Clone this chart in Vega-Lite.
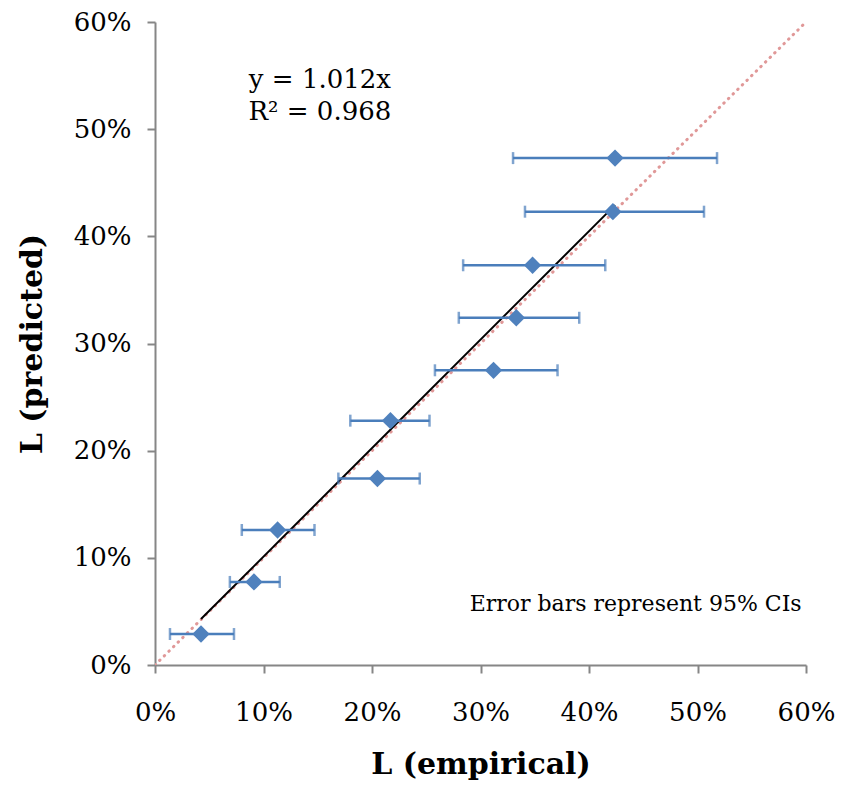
{
  "$schema": "https://vega.github.io/schema/vega-lite/v6.json",
  "width": 651,
  "height": 643,
  "autosize": {"type": "none"},
  "padding": {"left": 155, "top": 22, "right": 36, "bottom": 123},
  "background": "white",
  "config": {
    "view": {"stroke": null},
    "font": "DejaVu Serif",
    "axis": {
      "domainColor": "#868686",
      "domainWidth": 2,
      "tickColor": "#868686",
      "tickWidth": 2,
      "tickSize": 8,
      "grid": false,
      "labelFlush": false,
      "labelOverlap": false,
      "labelFont": "DejaVu Serif",
      "labelFontSize": 26,
      "labelColor": "black",
      "titleFont": "DejaVu Serif",
      "titleFontSize": 30,
      "titleFontWeight": "bold",
      "titleColor": "black"
    }
  },
  "datasets": {
    "points": [
      {"emp": 0.0424, "pred": 0.0289, "lo": 0.0138, "hi": 0.0728},
      {"emp": 0.0912, "pred": 0.0775, "lo": 0.0690, "hi": 0.1150},
      {"emp": 0.1130, "pred": 0.1260, "lo": 0.0800, "hi": 0.1470},
      {"emp": 0.2050, "pred": 0.1740, "lo": 0.1690, "hi": 0.2440},
      {"emp": 0.2170, "pred": 0.2280, "lo": 0.1800, "hi": 0.2530},
      {"emp": 0.3120, "pred": 0.2750, "lo": 0.2580, "hi": 0.3710},
      {"emp": 0.3330, "pred": 0.3240, "lo": 0.2800, "hi": 0.3910},
      {"emp": 0.3480, "pred": 0.3730, "lo": 0.2840, "hi": 0.4150},
      {"emp": 0.4220, "pred": 0.4230, "lo": 0.3410, "hi": 0.5060},
      {"emp": 0.4240, "pred": 0.4730, "lo": 0.3300, "hi": 0.5180}
    ],
    "trend": [
      {"emp": 0.0424, "pred": 0.0429},
      {"emp": 0.4240, "pred": 0.4291}
    ],
    "diag": [
      {"emp": 0.0, "pred": 0.0},
      {"emp": 0.6, "pred": 0.6}
    ],
    "eq": [
      {"emp": 0.152, "pred": 0.546, "label": "y = 1.012x"},
      {"emp": 0.152, "pred": 0.516, "label": "R² = 0.968"}
    ],
    "note": [
      {"emp": 0.443, "pred": 0.057, "label": "Error bars represent 95% CIs"}
    ]
  },
  "layer": [
    {
      "data": {"name": "diag"},
      "mark": {"type": "line", "color": "#e09898", "strokeWidth": 3, "strokeDash": [0.5, 6], "strokeCap": "round", "clip": true},
      "encoding": {
        "x": {
          "field": "emp", "type": "quantitative",
          "scale": {"domain": [0, 0.6], "nice": false},
          "axis": {"values": [0, 0.1, 0.2, 0.3, 0.4, 0.5, 0.6], "format": ".0%", "title": "L (empirical)", "labelPadding": 26, "titlePadding": 24}
        },
        "y": {
          "field": "pred", "type": "quantitative",
          "scale": {"domain": [0, 0.6], "nice": false},
          "axis": {"values": [0, 0.1, 0.2, 0.3, 0.4, 0.5, 0.6], "format": ".0%", "title": "L (predicted)", "labelPadding": 16, "titlePadding": 26}
        }
      }
    },
    {
      "data": {"name": "trend"},
      "mark": {"type": "line", "color": "black", "strokeWidth": 2},
      "encoding": {
        "x": {"field": "emp", "type": "quantitative"},
        "y": {"field": "pred", "type": "quantitative"}
      }
    },
    {
      "data": {"name": "points"},
      "mark": {"type": "rule", "color": "#4a7ebb", "strokeWidth": 2.5},
      "encoding": {
        "x": {"field": "lo", "type": "quantitative"},
        "x2": {"field": "hi"},
        "y": {"field": "pred", "type": "quantitative"}
      }
    },
    {
      "data": {"name": "points"},
      "mark": {"type": "tick", "orient": "vertical", "color": "#4a7ebb", "size": 12, "thickness": 2.5},
      "encoding": {
        "x": {"field": "lo", "type": "quantitative"},
        "y": {"field": "pred", "type": "quantitative"}
      }
    },
    {
      "data": {"name": "points"},
      "mark": {"type": "tick", "orient": "vertical", "color": "#4a7ebb", "size": 12, "thickness": 2.5},
      "encoding": {
        "x": {"field": "hi", "type": "quantitative"},
        "y": {"field": "pred", "type": "quantitative"}
      }
    },
    {
      "data": {"name": "points"},
      "mark": {"type": "point", "shape": "diamond", "filled": true, "color": "#4f81bd", "opacity": 1, "size": 300},
      "encoding": {
        "x": {"field": "emp", "type": "quantitative"},
        "y": {"field": "pred", "type": "quantitative"}
      }
    },
    {
      "data": {"name": "eq"},
      "mark": {"type": "text", "fontSize": 26, "font": "DejaVu Serif", "color": "black", "align": "center", "baseline": "middle"},
      "encoding": {
        "x": {"field": "emp", "type": "quantitative"},
        "y": {"field": "pred", "type": "quantitative"},
        "text": {"field": "label"}
      }
    },
    {
      "data": {"name": "note"},
      "mark": {"type": "text", "fontSize": 22, "font": "DejaVu Serif", "color": "black", "align": "center", "baseline": "middle"},
      "encoding": {
        "x": {"field": "emp", "type": "quantitative"},
        "y": {"field": "pred", "type": "quantitative"},
        "text": {"field": "label"}
      }
    }
  ]
}
